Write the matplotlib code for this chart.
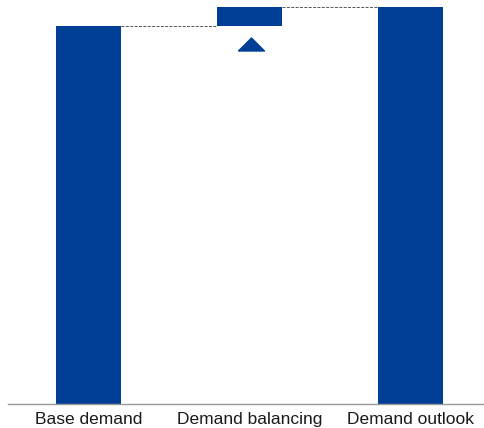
import matplotlib.pyplot as plt
import matplotlib.transforms as mtransforms
import numpy as np

categories = ['Base demand', 'Demand balancing', 'Demand outlook']
base_demand = 100.0
balancing = 5.0
outlook = base_demand + balancing

bar_bottoms = [0, base_demand, 0]
bar_heights = [base_demand, balancing, outlook]
blue = '#003f95'

fig = plt.figure(figsize=(4.85, 4.28), dpi=100)
ax = fig.add_axes([8/485, 24/428, 483/485, 404/428])

x = np.arange(len(categories))
w = 0.4
ax.bar(x, bar_heights, bottom=bar_bottoms, width=w, color=blue)

# connectors
tops = [base_demand, outlook]
for i, y in enumerate(tops):
    ax.plot([x[i] + w/2, x[i+1] - w/2], [y, y], color='#555555',
            linestyle=(0, (3, 1.5)), linewidth=0.7)

# up arrow under the change bar
tri = [(-1, -0.5), (1, -0.5), (0, 0.5), (-1, -0.5)]
trans = mtransforms.offset_copy(ax.transData, fig=fig, x=1.5, y=-18, units='dots')
ax.plot([x[1]], [base_demand], marker=tri, markersize=18.7, color=blue,
        linestyle='none', transform=trans)

ax.set_xlim(-0.5, 2.5)
ax.set_ylim(0, outlook * 404 / 397)
ax.set_xticks(x)
ax.set_xticklabels(categories, fontsize=12.5, family='Liberation Sans', color='#1a1a1a')
ax.tick_params(axis='x', length=0, pad=6)
ax.set_yticks([])
for s in ['top', 'left', 'right']:
    ax.spines[s].set_visible(False)
ax.spines['bottom'].set_color('#999999')
ax.spines['bottom'].set_linewidth(1)

fig.savefig('out.png', dpi=100)
